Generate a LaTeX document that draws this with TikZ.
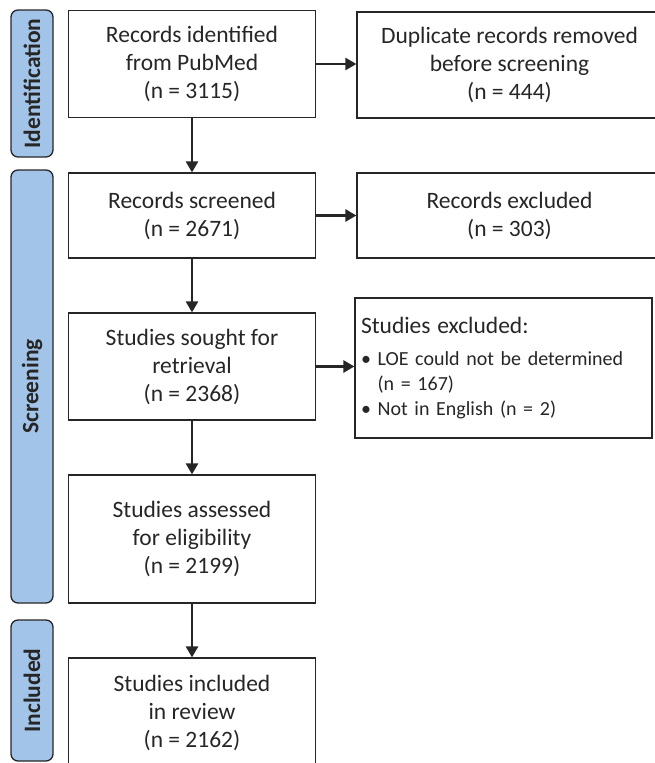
\documentclass[tikz,border=0pt]{standalone}
\usepackage{fontspec}
\setmainfont{Carlito}
\usetikzlibrary{arrows.meta, positioning}
\definecolor{phaseblue}{HTML}{A2C4E8}
\definecolor{inkgray}{HTML}{262626}

\begin{document}
\begin{tikzpicture}[x=1pt, y=-1pt,
    box/.style={draw=inkgray, line width=1.2pt, text=inkgray, align=center, inner sep=0pt,
        font=\fontsize{23.5}{28}\selectfont},
    phase/.style={draw=inkgray, line width=1.3pt, fill=phaseblue, rounded corners=7pt, inner sep=0pt,
        text=inkgray, font=\fontsize{23.5}{26}\selectfont\bfseries},
    flow/.style={draw=inkgray, line width=2.6pt, -{Triangle[length=11pt, width=12pt]}}]
    \useasboundingbox (0, 0) rectangle (655, 763);

    % phase bars
    \node[phase, minimum width=147pt, minimum height=42pt, rotate=90] (identification) at (32, 83.5) {Identification};
    \node[phase, minimum width=433pt, minimum height=42pt, rotate=90] (screening) at (32, 386.5) {Screening};
    \node[phase, minimum width=141pt, minimum height=42pt, rotate=90] (included) at (32, 690.5) {Included};

    % left column
    \node[box, minimum width=247pt, minimum height=107pt] (identified) at (192, 64) {Records identified\\from PubMed\\(n = 3115)};
    \node[box, minimum width=247pt, minimum height=85pt] (screened) at (192, 215.5) {Records screened\\(n = 2671)};
    \node[box, minimum width=247pt, minimum height=107pt] (sought) at (192, 366.5) {Studies sought for\\retrieval\\(n = 2368)};
    \node[box, minimum width=247pt, minimum height=128pt] (assessed) at (192, 539) {Studies assessed\\for eligibility\\(n = 2199)};
    \node[box, minimum width=247pt, minimum height=110pt] (inreview) at (192, 713) {Studies included\\in review\\(n = 2162)};

    % right column
    \node[box, minimum width=305pt, minimum height=106pt] (duplicates) at (509.5, 65) {Duplicate records removed\\before screening\\(n = 444)};
    \node[box, minimum width=305pt, minimum height=85pt] (recexcluded) at (509.5, 215.5) {Records excluded\\(n = 303)};
    \node[box, minimum width=297pt, minimum height=140pt, align=left, text width=285pt,
        font=\fontsize{20}{25}\selectfont] (studexcluded) at (503.5, 368)
        {{\fontsize{23.5}{25}\selectfont Studies excluded:}\\[7pt]
         \textbullet{} LOE could not be determined\\
         \phantom{\textbullet{} }(n = 167)\\
         \textbullet{} Not in English (n = 2)};

    % connectors
    \draw[flow] (identified) -- (screened);
    \draw[flow] (screened) -- (sought);
    \draw[flow] (sought) -- (assessed);
    \draw[flow] (assessed) -- (inreview);
    \draw[flow] (identified.east) -- (identified.east -| duplicates.west);
    \draw[flow] (screened.east) -- (screened.east -| recexcluded.west);
    \draw[flow] (sought.east) -- (sought.east -| studexcluded.west);
\end{tikzpicture}
\end{document}
